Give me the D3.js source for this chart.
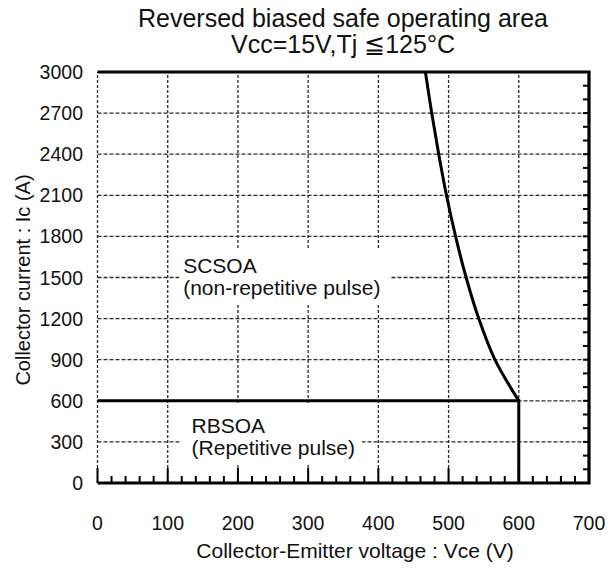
<!DOCTYPE html>
<html><head><meta charset="utf-8">
<script src="https://cdn.jsdelivr.net/npm/d3@7"></script>
<style>html,body{margin:0;padding:0;background:#fff;}svg{display:block;font-family:"Liberation Sans",Arial,sans-serif;}</style>
</head><body>
<div id="chart"></div>
<script>
const titleLines = ["Reversed biased safe operating area", "Vcc=15V,Tj \u2266125\u00B0C"];
const xLabel = "Collector-Emitter voltage : Vce (V)";
const yLabel = "Collector current : Ic (A)";
const xTicks = [0, 100, 200, 300, 400, 500, 600, 700];
const yTicks = [0, 300, 600, 900, 1200, 1500, 1800, 2100, 2400, 2700, 3000];
const rbsoaV = [0, 600, 600];
const rbsoaI = [600, 600, 0];
const scsoaV = [467, 476, 486, 497, 510, 525, 543, 566, 600];
const scsoaI = [3000, 2700, 2400, 2100, 1800, 1500, 1200, 900, 600];
const regionLabels = [
  {lines: ["SCSOA", "(non-repetitive pulse)"], v: 122, i: 1530, pad: [4, 6, 10, 5]},
  {lines: ["RBSOA", "(Repetitive pulse)"], v: 134, i: 363, pad: [11, 10, 7, 4]}
];

const W = 614, H = 571;
const svg = d3.select("#chart").append("svg").attr("width", W).attr("height", H);
const x = d3.scaleLinear().domain([0, 700]).range([97.5, 589]);
const y = d3.scaleLinear().domain([0, 3000]).range([483, 72]);
const gridColor = "#2a2a2a";
const txt = "#111";

const g = svg.append("g");
g.selectAll(".vg").data(xTicks.filter(d => d < 700)).enter().append("line")
  .attr("x1", d => x(d)).attr("x2", d => x(d))
  .attr("y1", y(0)).attr("y2", y(3000))
  .attr("stroke", gridColor).attr("stroke-width", 1.3).attr("stroke-dasharray", "3,2");
g.selectAll(".hg").data(yTicks.filter(d => d > 0 && d < 3000)).enter().append("line")
  .attr("x1", x(0)).attr("x2", x(700))
  .attr("y1", d => y(d)).attr("y2", d => y(d))
  .attr("stroke", gridColor).attr("stroke-width", 1.3).attr("stroke-dasharray", "4,2");

regionLabels.forEach(r => {
  const tx = x(r.v), ty = y(r.i);
  const grp = svg.append("g");
  const t = grp.append("text").attr("x", tx).attr("y", ty).attr("font-size", 21).attr("fill", txt);
  r.lines.forEach((l, k) => t.append("tspan").attr("x", tx).attr("dy", k === 0 ? 0 : 22).text(l));
  const bb = t.node().getBBox();
  const [pl, pt, pr, pb] = r.pad;
  grp.insert("rect", "text").attr("x", bb.x - pl).attr("y", bb.y - pt)
    .attr("width", bb.width + pl + pr).attr("height", bb.height + pt + pb).attr("fill", "#fff");
});

const minorX = d3.range(0, 701, 20);
svg.selectAll(".xt").data(minorX).enter().append("line")
  .attr("x1", d => x(d)).attr("x2", d => x(d))
  .attr("y1", y(0)).attr("y2", d => y(0) - (d % 100 === 0 ? 15 : 7))
  .attr("stroke", "#000").attr("stroke-width", 2);
const minorY = d3.range(0, 3001, 100);
svg.selectAll(".yt").data(minorY).enter().append("line")
  .attr("x1", x(700)).attr("x2", x(700) - 6)
  .attr("y1", d => y(d)).attr("y2", d => y(d))
  .attr("stroke", "#000").attr("stroke-width", 2);

svg.append("path")
  .attr("d", `M${x(0)},${y(3000)}H${x(700)}V${y(0)}H${x(0)}`)
  .attr("fill", "none").attr("stroke", "#000").attr("stroke-width", 3.2);

const line = d3.line().x(d => x(d[0])).y(d => y(d[1]));
svg.append("path").datum(rbsoaV.map((v, k) => [v, rbsoaI[k]]))
  .attr("d", line).attr("fill", "none").attr("stroke", "#000").attr("stroke-width", 3);
svg.append("path").datum(scsoaV.map((v, k) => [v, scsoaI[k]]))
  .attr("d", d3.line().x(d => x(d[0])).y(d => y(d[1])).curve(d3.curveCatmullRom.alpha(0.5)))
  .attr("fill", "none").attr("stroke", "#000").attr("stroke-width", 3);

svg.selectAll(".xl").data(xTicks).enter().append("text")
  .attr("x", d => x(d)).attr("y", 530).attr("text-anchor", "middle")
  .attr("font-size", 19.5).attr("fill", txt).text(d => d);
svg.selectAll(".yl").data(yTicks).enter().append("text")
  .attr("x", 83).attr("y", d => y(d) + 7).attr("text-anchor", "end")
  .attr("font-size", 19.5).attr("fill", txt).text(d => d);

svg.append("text").attr("x", 355).attr("y", 558).attr("text-anchor", "middle")
  .attr("font-size", 21).attr("fill", txt).text(xLabel);
svg.append("text").attr("transform", "translate(30,280) rotate(-90)")
  .attr("text-anchor", "middle").attr("font-size", 20).attr("fill", txt).text(yLabel);

titleLines.forEach((l, k) => svg.append("text").attr("x", 343).attr("y", 27 + k * 26)
  .attr("text-anchor", "middle").attr("font-size", 25).attr("fill", txt).text(l));
</script>
</body></html>
